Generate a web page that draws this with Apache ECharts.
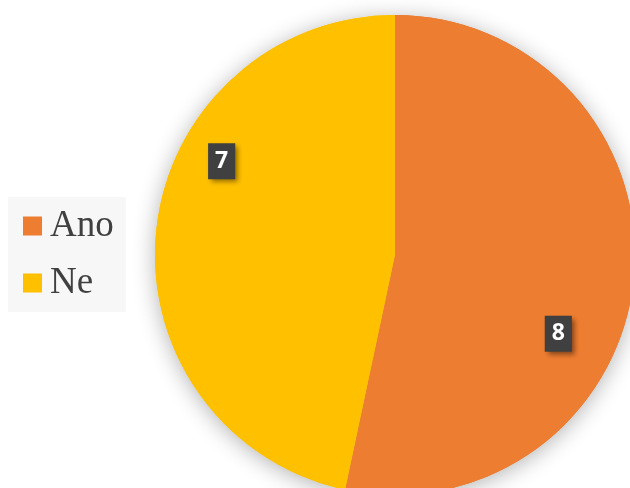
<!DOCTYPE html>
<html>
<head>
<meta charset="utf-8">
<script src="https://cdn.jsdelivr.net/npm/echarts@6/dist/echarts.min.js"></script>
<style>
  html, body { margin: 0; padding: 0; background: #fff; }
  #chart { width: 630px; height: 488px; }
</style>
</head>
<body>
<div id="chart"></div>
<script>
// data
const categories = ['Ano', 'Ne']
const values = [8, 7]
const colors = ['#ED7D31', '#FFC000']
// label nudges away from the default inside spot (Excel "best fit" look)
const labelOffsets = [[41, 66], [-51, -81]]

const chart = echarts.init(document.getElementById('chart'))

const pieData = categories.map((name, i) => ({
  name: name,
  value: values[i],
  itemStyle: { color: colors[i] },
  label: { offset: labelOffsets[i] }
}))

chart.setOption({
  animation: false,
  legend: {
    orient: 'vertical',
    left: 8,
    top: 197,
    icon: 'rect',
    itemWidth: 19,
    itemHeight: 19,
    itemGap: 19,
    padding: [10, 12, 10, 15],
    backgroundColor: '#f7f7f7',
    data: categories,
    textStyle: {
      fontFamily: 'Liberation Serif',
      fontSize: 37,
      lineHeight: 38,
      padding: [0, 0, 0, 3],
      color: '#404040'
    }
  },
  series: [
    {
      // shadow layer under the pie
      type: 'pie',
      silent: true,
      center: [395, 255],
      radius: 240,
      startAngle: 90,
      itemStyle: {
        borderWidth: 0,
        shadowBlur: 22,
        shadowColor: 'rgba(0,0,0,0.3)',
        shadowOffsetY: 3
      },
      label: { show: false },
      labelLine: { show: false },
      data: pieData
    },
    {
      type: 'pie',
      center: [395, 255],
      radius: 240,
      startAngle: 90,
      clockwise: true,
      avoidLabelOverlap: false,
      itemStyle: { borderWidth: 0 },
      label: {
        position: 'inside',
        formatter: '{c}',
        fontFamily: 'Noto Sans',
        fontWeight: 'bold',
        fontSize: 23,
        color: '#fff',
        backgroundColor: '#404040',
        padding: [7, 7, 6, 7],
        shadowColor: 'rgba(0,0,0,0.45)',
        shadowBlur: 5,
        shadowOffsetX: 3,
        shadowOffsetY: 3
      },
      labelLine: { show: false },
      emphasis: { disabled: true },
      data: pieData
    }
  ]
})
</script>
</body>
</html>
